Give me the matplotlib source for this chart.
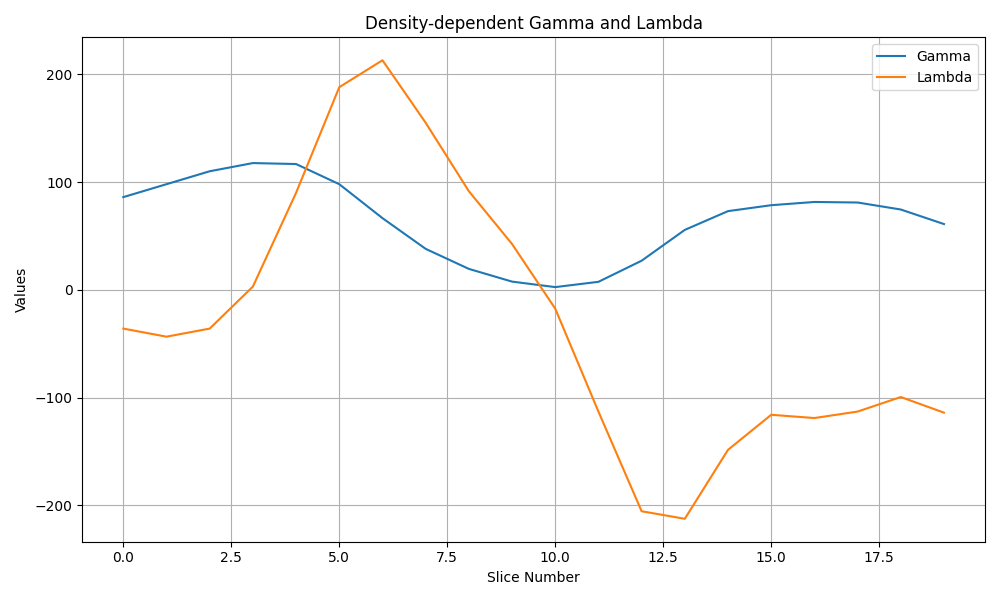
import matplotlib
matplotlib.use("Agg")
import matplotlib.pyplot as plt

slices = list(range(20))
gamma = [86, 98, 110, 117.6, 116.7, 98, 66.5, 38, 19.4, 7.6, 2.5, 7.4, 27, 55.6, 73, 78.5, 81.5, 81, 74.5, 61]
lam = [-36, -43.5, -36, 3, 90, 188, 213, 155, 91.5, 42.5, -17.5, -113, -205.5, -212.5, -148.5, -116, -119, -113, -99.5, -114]

fig, ax = plt.subplots(figsize=(10, 6), dpi=100)
ax.plot(slices, gamma, label="Gamma")
ax.plot(slices, lam, label="Lambda")
ax.set_title("Density-dependent Gamma and Lambda")
ax.set_xlabel("Slice Number")
ax.set_ylabel("Values")
ax.grid(True)
ax.legend(loc="upper right")
fig.tight_layout()
fig.savefig("out.png")
